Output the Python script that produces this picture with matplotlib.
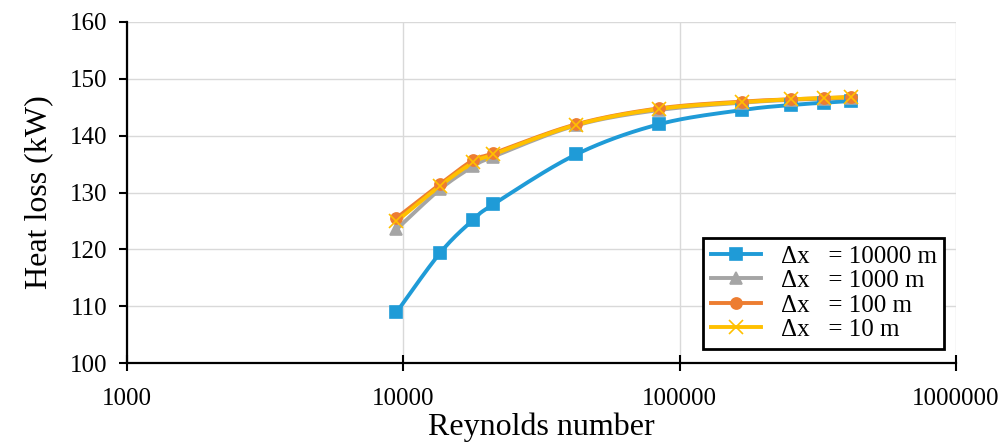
import numpy as np
import matplotlib.pyplot as plt

plt.rcParams['font.family'] = ['Liberation Serif', 'DejaVu Serif']

reynolds = [9440, 13600, 17900, 21150, 42200, 84000, 167600, 253700, 333600, 418000]
loss_10000 = [108.9, 119.4, 125.2, 127.9, 136.7, 142.0, 144.5, 145.4, 145.8, 146.1]
loss_1000 = [123.5, 130.6, 134.6, 136.3, 141.8, 144.5, 145.8, 146.3, 146.5, 146.7]
loss_100 = [125.5, 131.5, 135.7, 136.9, 142.0, 144.8, 146.0, 146.4, 146.6, 146.8]
loss_10 = [124.9, 131.2, 135.3, 136.7, 141.9, 144.7, 145.9, 146.4, 146.6, 146.8]
labels = ['Δx   = 10000 m', 'Δx   = 1000 m', 'Δx   = 100 m', 'Δx   = 10 m']


def smooth(x, y, n=20):
    # catmull-rom through the points, in log-x space
    lx = np.log10(x)
    p = np.column_stack([lx, y])
    p = np.vstack([p[0], p, p[-1]])
    out = []
    for i in range(1, len(p) - 2):
        p0, p1, p2, p3 = p[i - 1], p[i], p[i + 1], p[i + 2]
        t = np.linspace(0, 1, n)[:, None]
        c = 0.5 * ((2 * p1) + (-p0 + p2) * t + (2 * p0 - 5 * p1 + 4 * p2 - p3) * t ** 2
                   + (-p0 + 3 * p1 - 3 * p2 + p3) * t ** 3)
        out.append(c)
    c = np.vstack(out)
    return 10 ** c[:, 0], c[:, 1]


fig = plt.figure(figsize=(10.05, 4.47), dpi=100)
ax = fig.add_axes([0.1264, 0.1879, 0.8248, 0.7629])

series = [
    (loss_10000, '#1f9bd7', 's', 8),
    (loss_1000, '#a5a5a5', '^', 9),
    (loss_100, '#ed7d31', 'o', 8),
    (loss_10, '#ffc000', 'x', 10),
]
for (vals, col, mk, ms), lab in zip(series, labels):
    sx, sy = smooth(reynolds, vals)
    ax.plot(sx, sy, color=col, lw=2.8, zorder=3, solid_capstyle='round')
    ax.plot(reynolds, vals, ls='none', marker=mk, ms=ms, color=col, mew=1.2, zorder=4)
    ax.plot([], [], color=col, lw=2.8, marker=mk, ms=ms, mew=1.2, label=lab)

ax.set_xscale('log')
ax.set_xlim(1000, 1000000)
ax.set_ylim(100, 160)
ax.set_xticks([1000, 10000, 100000, 1000000])
ax.set_xticklabels(['1000', '10000', '100000', '1000000'])
ax.xaxis.set_minor_locator(plt.NullLocator())
ax.set_yticks(range(100, 161, 10))
ax.grid(True, color='#d9d9d9', lw=1.0, zorder=0)

for s in ['top', 'right']:
    ax.spines[s].set_visible(False)
for s in ['left', 'bottom']:
    ax.spines[s].set_linewidth(1.6)
ax.tick_params(axis='y', direction='out', length=6, width=1.5, labelsize=18, pad=8)
ax.tick_params(axis='x', direction='inout', length=12, width=1.5, labelsize=18, pad=12)

ax.set_xlabel('Reynolds number', fontsize=23, labelpad=2)
ax.set_ylabel('Heat loss (kW)', fontsize=23, labelpad=12)

leg = ax.legend(loc='lower right', bbox_to_anchor=(0.995, 0.02), fontsize=18, handlelength=2.0,
                handletextpad=0.8, borderpad=0.3, borderaxespad=0.3, labelspacing=0.08,
                fancybox=False, framealpha=1, edgecolor='black')
leg.get_frame().set_linewidth(2)

fig.savefig('out.png', dpi=100)
